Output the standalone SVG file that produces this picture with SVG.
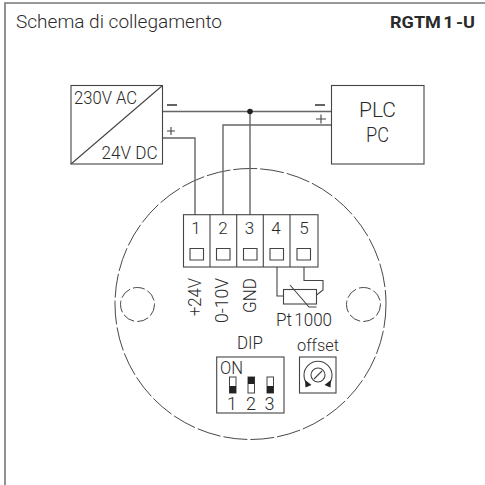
<svg xmlns="http://www.w3.org/2000/svg" width="485" height="485" viewBox="0 0 485 485">
<style>
text{font-family:Roboto,"Liberation Sans",sans-serif;font-weight:300;fill:#2a2a2a;font-size:18px}
.m{text-anchor:middle}
.l{fill:none;stroke:#444;stroke-width:1.1}
.w{fill:none;stroke:#666;stroke-width:1.4}
.d{fill:none;stroke:#333;stroke-width:.9;stroke-dasharray:24 3}
.s{fill:none;stroke:#333;stroke-width:.9;stroke-dasharray:12 3}
.k{fill:#222;stroke:none}
.b{fill:none;stroke:#222;stroke-width:1.4}
</style>
<rect width="485" height="485" fill="#fff"/>
<path d="M5 485V3H485" fill="none" stroke="#777" stroke-width="1.6"/>
<text x="16" y="27.500" textLength="206" lengthAdjust="spacingAndGlyphs">Schema di collegamento</text>
<text x="390" y="28" textLength="85" lengthAdjust="spacingAndGlyphs" style="font-weight:700;font-size:16.500px;word-spacing:-2px">RGTM 1 -U</text>
<g id="outline">
<circle class="d" cx="250.500" cy="304" r="135.500"/>
<circle class="s" cx="137.500" cy="304.500" r="17"/>
<circle class="s" cx="363.500" cy="304.500" r="17"/>
</g>
<g id="connectors">
<path class="w" d="M162.500 111.500H331.500M331.500 125H223V215M162.500 138H195V215M250 111.500V215"/>
<circle class="k" cx="250" cy="111.500" r="2.800"/>
</g>
<g id="converter">
<rect class="l" x="71" y="85.500" width="91.500" height="78.500"/>
<path class="l" d="M71 164L162.500 85.500"/>
<text x="74" y="103.500" textLength="63" lengthAdjust="spacingAndGlyphs">230V AC</text>
<text x="101.500" y="159" textLength="56" lengthAdjust="spacingAndGlyphs">24V DC</text>
<path class="b" d="M167 105H177"/>
<path class="l" d="M167 131H175M171 127V135"/>
</g>
<g id="plc">
<rect class="l" x="331.500" y="85.500" width="92.500" height="78.500"/>
<text class="m" x="377.500" y="117" textLength="37" lengthAdjust="spacingAndGlyphs" style="font-size:21px">PLC</text>
<text class="m" x="377.500" y="142" textLength="23" lengthAdjust="spacingAndGlyphs" style="font-size:21px">PC</text>
<path class="b" d="M315 105H325"/>
<path class="l" d="M316 119H326M321 114.500V123.500"/>
</g>
<g id="terminal">
<rect class="l" x="183.500" y="214.700" width="134.500" height="52.300"/>
<path class="l" d="M210 214.700V267M236.700 214.700V267M263.300 214.700V267M290 214.700V267"/>
<path class="l" d="M190 248.500h13.500v11.500h-13.500zM216.500 248.500h13.500v11.500h-13.500zM243.500 248.500h13.500v11.500h-13.500zM270 248.500h13.500v11.500h-13.500zM297 248.500h13.500v11.500h-13.500z"/>
<text class="m" x="196" y="233.500" style="font-size:17px">1</text>
<text class="m" x="223" y="233.500" style="font-size:17px">2</text>
<text class="m" x="249.500" y="233.500" style="font-size:17px">3</text>
<text class="m" x="276" y="233.500" style="font-size:17px">4</text>
<text class="m" x="304" y="233.500" style="font-size:17px">5</text>
<text transform="translate(201 316) rotate(-90)" textLength="38" lengthAdjust="spacingAndGlyphs">+24V</text>
<text transform="translate(227.500 323) rotate(-90)" textLength="45" lengthAdjust="spacingAndGlyphs">0-10V</text>
<text transform="translate(256 313) rotate(-90)" textLength="35" lengthAdjust="spacingAndGlyphs">GND</text>
</g>
<g id="pt1000">
<path class="l" d="M277 267V296H283.500M304 267V280.500H323V290L316.500 295"/>
<rect class="l" x="283.500" y="289.500" width="33" height="14.500"/>
<path class="l" d="M290 285L309 307H316.500"/>
<text x="276" y="326" textLength="56" lengthAdjust="spacingAndGlyphs" style="word-spacing:-2px">Pt 1000</text>
</g>
<g id="dip">
<text class="m" x="250" y="349" textLength="26" lengthAdjust="spacingAndGlyphs">DIP</text>
<rect class="l" x="216.700" y="357" width="67.300" height="56"/>
<text x="220" y="374" textLength="23" lengthAdjust="spacingAndGlyphs">ON</text>
<g stroke="#444" stroke-width="1" fill="#fff">
<rect x="229.500" y="377" width="6.500" height="16"/>
<rect x="248" y="377" width="6.500" height="16"/>
<rect x="267" y="377" width="6.500" height="16"/>
</g>
<rect class="k" x="229.500" y="386" width="6.500" height="7"/>
<rect class="k" x="248" y="377" width="6.500" height="7"/>
<rect class="k" x="267" y="386" width="6.500" height="7"/>
<text class="m" x="232" y="410">1</text>
<text class="m" x="251" y="410">2</text>
<text class="m" x="269.500" y="410">3</text>
</g>
<g id="offset">
<text class="m" x="318" y="351" textLength="42" lengthAdjust="spacingAndGlyphs" style="font-size:17px">offset</text>
<rect class="l" x="299.500" y="357" width="36.500" height="36"/>
<path class="l" d="M308 385A14 14 0 1 1 328 385"/>
<circle class="l" cx="318" cy="375" r="7"/>
<path class="l" d="M314 379L322 371"/>
<path class="k" d="M305 380L311.500 385L305.500 387.500ZM331 380L324.500 385L330.500 387.500Z"/>
</g>
</svg>
